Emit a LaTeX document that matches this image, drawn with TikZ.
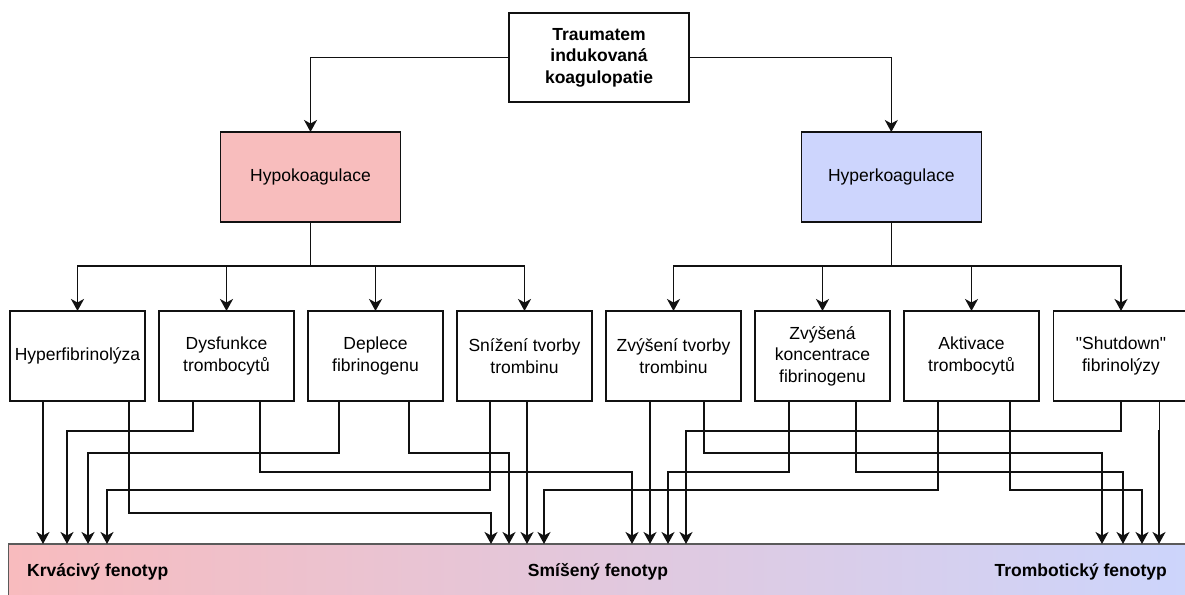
\documentclass[tikz,border=0pt]{standalone}
\usepackage{fontspec}
\setmainfont{Liberation Sans}[Ligatures=TeXOff]
\usetikzlibrary{arrows.meta,calc}
\definecolor{hypofill}{HTML}{F8BDBD}
\definecolor{hyperfill}{HTML}{CDD5FD}
\definecolor{barleft}{HTML}{F8BBBE}
\definecolor{barright}{HTML}{CCD5FC}
\definecolor{bargray}{HTML}{5A5A5A}
\definecolor{ink}{HTML}{111111}
\newcommand\myconn[4]{\draw[arr] ([xshift=#2pt]#1.south) -- ++(0,#3) -| ($(bar.north west)+(#4-8.5,0)$);}
\begin{document}
\begin{tikzpicture}[x=1pt,y=-1pt,
  box/.style={draw=ink, line width=1.5pt, fill=white, outer sep=0pt, inner sep=2pt,
    align=center, font=\fontsize{17.5}{21.5}\selectfont},
  bigbox/.style={box, minimum width=180pt, minimum height=90pt},
  smallbox/.style={box, minimum width=135pt, minimum height=90pt},
  plainline/.style={draw=ink, line width=1.6pt},
  arr/.style={plainline, -{Stealth[length=12pt,width=13pt,inset=3.5pt]}},
  bartxt/.style={font=\bfseries\fontsize{17.5}{21}\selectfont, inner sep=0pt}]
\clip (0,0) rectangle (1185,594);
% top boxes
\node[bigbox, minimum height=89pt, font=\bfseries\fontsize{17.5}{21.5}\selectfont] (root) at (599,57.5) {Traumatem\\indukovaná\\koagulopatie};
\node[bigbox, fill=hypofill] (hypo) at (310.5,177) {Hypokoagulace};
\node[bigbox, fill=hyperfill] (hyper) at (891.3,177) {Hyperkoagulace};
% second row
\node[smallbox] (b1) at (77.5,356) {Hyperfibrinolýza};
\node[smallbox] (b2) at (226.5,356) {Dysfunkce\\trombocytů};
\node[smallbox] (b3) at (375.5,356) {Deplece\\fibrinogenu};
\node[smallbox] (b4) at (524.5,356) {Snížení tvorby\\trombinu};
\node[smallbox] (b5) at (673.5,356) {Zvýšení tvorby\\trombinu};
\node[smallbox] (b6) at (822.5,356) {Zvýšená\\koncentrace\\fibrinogenu};
\node[smallbox] (b7) at (971.5,356) {Aktivace\\trombocytů};
\node[smallbox] (b8) at (1121,356) {"Shutdown"\\fibrinolýzy};
% phenotype bar
\node[draw=bargray, line width=1.2pt, left color=barleft, right color=barright, outer sep=0pt,
  minimum width=1190pt, minimum height=62pt, anchor=north west, inner sep=0pt] (bar) at (8.5,544) {};
\node[bartxt, anchor=base west] (t1) at (27,576.7) {Krvácivý fenotyp};
\node[bartxt, anchor=base] (t2) at (598,576.7) {Smíšený fenotyp};
\node[bartxt, anchor=base east] (t3) at (1167,576.7) {Trombotický fenotyp};
% tree connectors
\draw[arr] (root.west) -| (hypo.north);
\draw[arr] (root.east) -| (hyper.north);
\path (hypo.south) ++(0,44) coordinate (hj);
\path (hyper.south) ++(0,44) coordinate (rj);
\draw[plainline] (hypo.south) -- (hj);
\draw[plainline] (hyper.south) -- (rj);
\foreach \b in {b1,b2,b3,b4} \draw[arr] (hj) -| (\b.north);
\foreach \b in {b5,b6,b7,b8} \draw[arr] (rj) -| (\b.north);
% phenotype connectors
\myconn{b1}{-34.5}{30}{43}
\myconn{b1}{51.5}{112}{491}
\myconn{b2}{-33.5}{30}{67}
\myconn{b2}{33.5}{71}{632}
\myconn{b3}{-36.5}{52}{88}
\myconn{b3}{33.5}{52}{509}
\myconn{b4}{-34.5}{89}{107}
\myconn{b4}{2.5}{30}{527}
\myconn{b5}{-23.5}{30}{650}
\myconn{b5}{30.5}{52}{1102}
\myconn{b6}{-33.5}{71}{668}
\myconn{b6}{33.5}{71}{1123}
\myconn{b7}{-33.5}{89}{544}
\myconn{b7}{38.5}{89}{1142}
\myconn{b8}{0}{30}{686}
\myconn{b8}{38.5}{30}{1159}
\end{tikzpicture}
\end{document}
